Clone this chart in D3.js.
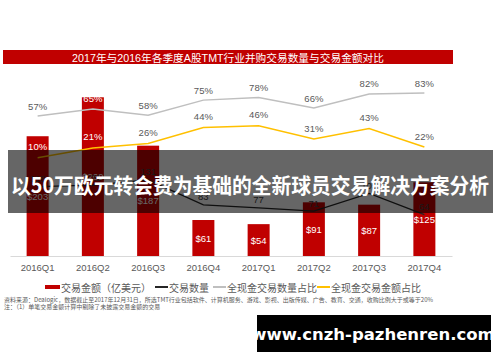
<!DOCTYPE html>
<html>
<head>
<meta charset="utf-8">
<script src="https://cdn.jsdelivr.net/npm/d3@7"></script>
<style>
  body { margin: 0; background: #fff; }
  svg { display: block; font-family: "Liberation Sans", Arial, "Noto Sans CJK SC", sans-serif; }
</style>
</head>
<body>
<div id="chart"></div>
<script>
// quarters and series
var quarters = ['2016Q1', '2016Q2', '2016Q3', '2016Q4', '2017Q1', '2017Q2', '2017Q3', '2017Q4'];
var amounts = [203, 269, 187, 61, 54, 91, 87, 125];          // 交易金额（亿美元）
var counts = [118, 121, 131, 83, 77, 71, 105, 64];           // 交易数量
var cashCountPct = [57, 65, 58, 75, 78, 66, 82, 83];         // 全现金交易数量占比
var cashAmountPct = [10, 21, 26, 44, 46, 31, 43, 22];        // 全现金交易金额占比

var chartTitle = '2017年与2016年各季度A股TMT行业并购交易数量与交易金额对比';
var bannerText = '以50万欧元转会费为基础的全新球员交易解决方案分析';
var legendNames = ['交易金额（亿美元）', '交易数量', '全现金交易数量占比', '全现金交易金额占比'];
var sourceNote = '资料来源：Dealogic，数据截止至2017年12月31日，所选TMT行业包括软件、计算机服务、游戏、影视、出版传媒、广告、教育、交通，收购比例大于或等于20%';
var footNote = '注：（1）单笔交易金额计算中剔除了未披露交易金额的交易';
var watermark = 'www.cnzh-pazhenren.com';

var width = 500, height = 362;
var red = '#c00000', orange = '#ffc000', grey = '#bfbfbf', dark = '#262626', textGrey = '#595959';

var svg = d3.select('#chart').append('svg')
    .attr('width', width)
    .attr('height', height);

var x = d3.scaleBand().domain(quarters).range([10, 452]);
var yAmt = d3.scaleLinear().domain([0, 300]).range([256, 79]);
var yCnt = d3.scaleLinear().domain([0, 200]).range([248, 144]);
var yPct = d3.scaleLinear().domain([0, 100]).range([166.5, 78]);
var barW = 22;
var cx = function(q) { return x(q) + x.bandwidth() / 2; };

// title bar
svg.append('rect').attr('x', 3).attr('y', 50).attr('width', 450).attr('height', 14).attr('fill', red);
svg.append('text').attr('x', 228).attr('y', 57.5).attr('text-anchor', 'middle')
    .attr('dominant-baseline', 'central').attr('fill', '#fff').attr('font-size', 10.7)
    .text(chartTitle);

// bars
var bars = svg.append('g');
bars.selectAll('rect').data(amounts).enter().append('rect')
    .attr('x', function(d, i) { return cx(quarters[i]) - barW / 2; })
    .attr('y', function(d) { return yAmt(d); })
    .attr('width', barW)
    .attr('height', function(d) { return yAmt(0) - yAmt(d); })
    .attr('fill', red);
bars.selectAll('text').data(amounts).enter().append('text')
    .attr('x', function(d, i) { return cx(quarters[i]); })
    .attr('y', function(d) { return (yAmt(d) + yAmt(0)) / 2; })
    .attr('text-anchor', 'middle').attr('dominant-baseline', 'central')
    .attr('font-size', 9.5).attr('fill', '#fff')
    .text(function(d) { return '$' + d; });

// axis
var xAxis = d3.axisBottom(x).tickSize(0).tickPadding(8);
var axisG = svg.append('g').attr('transform', 'translate(0,256)').call(xAxis);
axisG.select('.domain').attr('stroke', '#d9d9d9').attr('stroke-width', 1);
axisG.selectAll('text').attr('font-size', 9.5).attr('fill', textGrey)
    .attr('font-family', '"Liberation Sans", Arial, sans-serif');

function drawLine(values, yScale, color, width) {
    var line = d3.line()
        .x(function(d, i) { return cx(quarters[i]); })
        .y(function(d) { return yScale(d); });
    svg.append('path').datum(values).attr('d', line)
        .attr('fill', 'none').attr('stroke', color).attr('stroke-width', width);
}

drawLine(cashCountPct, yPct, grey, 1.5);
drawLine(cashAmountPct, yPct, orange, 1.5);
drawLine(counts, yCnt, dark, 1.3);

function inBar(i, yy) { return yy > yAmt(amounts[i]) && yy < yAmt(0); }

function drawLabels(values, yScale, off, fmt, color, whiteInBar) {
    svg.append('g').selectAll('text').data(values).enter().append('text')
        .attr('x', function(d, i) { return cx(quarters[i]); })
        .attr('y', function(d) { return yScale(d) - off; })
        .attr('text-anchor', 'middle').attr('dominant-baseline', 'central')
        .attr('font-size', 9.5)
        .attr('fill', function(d, i) {
            return whiteInBar && inBar(i, yScale(d) - off) ? '#fff' : color;
        })
        .text(fmt);
}
drawLabels(cashCountPct, yPct, 10, function(d) { return d + '%'; }, textGrey, true);
drawLabels(cashAmountPct, yPct, 11, function(d) { return d + '%'; }, textGrey, true);
drawLabels(counts, yCnt, 8, function(d) { return d; }, '#404040', false);

// overlay banner
svg.append('rect').attr('x', 8).attr('y', 150).attr('width', 485).attr('height', 63)
    .attr('fill', '#000').attr('fill-opacity', 0.6);
svg.append('text').attr('x', 250).attr('y', 184).attr('text-anchor', 'middle')
    .attr('dominant-baseline', 'central').attr('fill', '#fff')
    .attr('font-size', 21).attr('font-weight', 'bold')
    .attr('font-family', '"Noto Sans CJK SC", sans-serif')
    .attr('textLength', 478).attr('lengthAdjust', 'spacingAndGlyphs')
    .text(bannerText);

// legend
var legendX = [45, 155, 213, 317];
var legendColors = [red, dark, grey, orange];
var legend = svg.append('g');
legendNames.forEach(function(name, i) {
    if (i === 0) {
        legend.append('rect').attr('x', legendX[i]).attr('y', 285).attr('width', 15).attr('height', 4)
            .attr('fill', legendColors[i]);
    } else {
        legend.append('line').attr('x1', legendX[i]).attr('x2', legendX[i] + 13)
            .attr('y1', 287).attr('y2', 287)
            .attr('stroke', legendColors[i]).attr('stroke-width', 2);
    }
    legend.append('text').attr('x', legendX[i] + (i === 0 ? 16 : 14)).attr('y', 287)
        .attr('dominant-baseline', 'central').attr('font-size', 10).attr('fill', textGrey)
        .attr('font-family', '"Noto Sans CJK SC", sans-serif')
        .text(name);
});

// notes
svg.append('text').attr('x', 4).attr('y', 299).attr('dominant-baseline', 'central')
    .attr('font-size', 6).attr('fill', textGrey)
    .attr('font-family', '"Noto Sans CJK SC", sans-serif').text(sourceNote);
svg.append('text').attr('x', 4).attr('y', 306.5).attr('dominant-baseline', 'central')
    .attr('font-size', 6).attr('fill', textGrey)
    .attr('font-family', '"Noto Sans CJK SC", sans-serif').text(footNote);

// watermark
svg.append('rect').attr('x', 257).attr('y', 315).attr('width', 234).attr('height', 37).attr('fill', '#000');
svg.append('text').attr('x', 373).attr('y', 334).attr('text-anchor', 'middle')
    .attr('dominant-baseline', 'central').attr('fill', '#fff')
    .attr('font-size', 16.5).attr('font-weight', 'bold')
    .attr('font-family', '"DejaVu Sans", sans-serif')
    .text(watermark);
</script>
</body>
</html>
